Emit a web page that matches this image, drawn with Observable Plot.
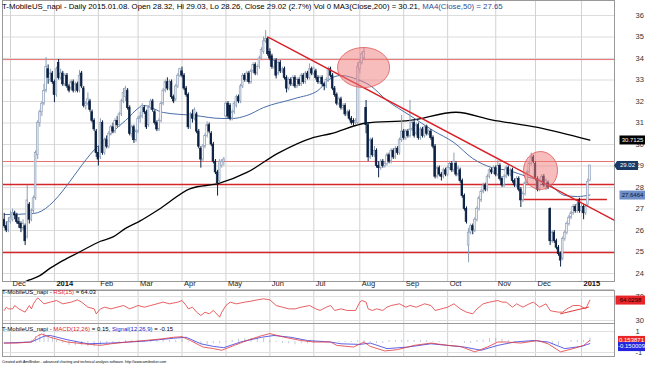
<!DOCTYPE html>
<html><head><meta charset="utf-8">
<script src="https://cdn.jsdelivr.net/npm/d3@7"></script>
<script src="https://cdn.jsdelivr.net/npm/@observablehq/plot@0.6"></script>
<style>
html,body{margin:0;padding:0;background:#fff;}
#wrap{position:relative;width:645px;height:366px;overflow:hidden;font-family:"Liberation Sans",Arial,sans-serif;background:#fff;}
.panel{position:absolute;left:0;}
.ttl{position:absolute;left:2px;font-size:6px;white-space:nowrap;line-height:7px;color:#000;}
.foot{position:absolute;left:2px;top:360px;font-size:3.6px;white-space:nowrap;color:#000;}
</style></head><body>
<div id="wrap">
  <div class="panel" id="p1" style="top:0"></div>
  <div class="panel" id="p2" style="top:290px"></div>
  <div class="panel" id="p3" style="top:323px"></div>
  <div class="ttl" style="top:2px;font-size:7.8px;line-height:9px">T-MobileUS_napi - Daily 2015.01.08. Open 28.32, Hi 29.03, Lo 28.26, Close 29.02 (2.7%) Vol 0 MA3(Close,200) = 30.21, <span style="color:#2c4f9a">MA4(Close,50) = 27.65</span></div>
  <div class="ttl" style="top:289px">T-MobileUS_napi - <span style="color:#e0202a">RSI(15)</span> = 64.03</div>
  <div class="ttl" style="top:326px">T-MobileUS_napi - <span style="color:#e0202a">MACD(12,26)</span> = 0.15, <span style="color:#2020d0">Signal(12,26,9)</span> = -0.15</div>
  <div class="foot">Created with AmiBroker - advanced charting and technical analysis software. http://www.amibroker.com</div>
</div>
<script>
// trading-day index of first candle (0 = 2013-12-02)
const firstIdx = -3;
const open = [
26.5,26.2,26.0,
26.4,26.5,26.8,26.7,26.4,26.3,26.1,26.2,25.7,27.2,26.5,26.9,27.5,29.5,31.0,31.5,31.9,32.5,33.5,33.0,33.3,
32.9,32.3,33.8,33.1,33.3,32.8,33.2,32.7,32.6,32.9,32.5,32.8,32.5,33.3,32.6,31.8,31.9,32.0,31.5,31.1,30.6,
29.6,29.4,31.0,29.6,30.2,29.9,30.5,30.8,30.6,31.1,30.9,31.4,32.0,32.2,32.5,31.7,30.5,30.8,30.2,
30.6,31.2,31.3,31.7,31.5,30.9,31.7,32.0,31.5,31.0,30.7,31.1,31.9,32.5,32.9,32.6,32.9,32.2,32.1,32.7,33.2,
33.4,33.2,32.6,32.3,30.8,31.4,31.2,31.4,30.6,29.8,29.3,29.9,30.4,30.9,30.5,30.0,29.2,28.7,28.3,29.0,29.2,
31.3,31.9,31.8,31.2,31.5,31.8,32.2,32.0,32.7,33.2,33.0,33.3,32.9,33.4,33.7,33.3,33.6,34.0,34.3,34.8,34.9,
34.3,34.1,33.6,33.9,33.3,33.8,33.4,33.5,33.1,32.6,33.0,32.8,33.1,32.7,33.0,32.8,33.2,32.9,33.3,33.1,33.5,
33.3,33.4,33.1,32.9,33.1,32.8,32.7,33.0,33.5,33.2,32.6,32.3,31.9,32.1,31.7,31.8,31.4,31.5,31.2,31.1,31.0,31.0,
33.5,33.8,34.0,31.7,30.9,29.4,30.2,29.5,29.7,29.0,28.9,29.2,29.0,29.1,29.5,29.2,29.7,29.4,29.8,29.6,30.2,
30.6,30.3,30.6,30.4,30.7,31.0,30.5,30.9,30.3,30.7,30.4,30.8,30.5,30.6,30.3,29.9,28.5,28.9,28.6,28.5,28.8,
28.6,28.9,29.1,28.8,29.1,28.6,28.8,28.3,27.6,27.0,25.3,25.9,26.2,26.0,26.5,27.0,27.4,27.8,28.1,27.9,28.5,28.8,28.7,
28.9,28.6,29.0,28.4,28.1,28.5,28.9,28.6,28.8,28.3,28.1,28.4,27.9,27.4,27.7,28.2,28.7,29.1,29.4,
29.1,28.4,27.9,28.3,28.5,28.1,28.2,27.0,25.5,25.9,25.5,25.2,24.9,24.7,25.6,25.9,26.3,26.6,26.8,27.1,26.9,27.4,
26.9,27.1,26.8,27.2,28.32];
const high = [
26.8,26.4,26.6,
26.9,27.0,26.9,26.8,26.6,26.4,26.5,26.3,28.1,27.3,27.0,27.6,29.7,31.1,31.6,32.0,32.8,34.05,33.7,33.5,33.4,
33.0,33.6,33.95,33.5,33.4,33.3,33.3,32.8,33.0,33.0,32.9,32.9,33.45,33.4,32.7,32.0,32.4,32.1,31.6,31.2,30.7,
29.9,31.2,31.1,30.3,30.4,30.6,30.9,31.0,31.2,31.3,31.5,32.1,32.6,32.7,32.6,31.8,30.9,30.9,30.7,
31.3,31.5,31.9,31.8,31.6,31.8,32.1,32.1,31.6,31.1,31.2,32.0,32.6,33.0,33.1,33.0,33.0,32.3,32.8,33.3,33.55,
33.6,33.3,32.7,32.4,31.5,31.6,31.7,31.5,30.7,29.9,30.0,30.5,31.05,31.0,30.6,30.1,29.3,28.8,29.3,29.3,29.4,
32.0,32.0,31.9,31.6,32.0,32.3,32.3,32.8,33.3,33.3,33.4,33.4,33.5,33.8,33.8,33.7,34.1,34.5,35.0,35.3,35.0,
34.45,34.2,34.0,34.0,33.9,33.9,33.6,33.6,33.2,33.1,33.1,33.2,33.2,33.1,33.1,33.3,33.3,33.4,33.4,33.75,33.6,
33.6,33.5,33.2,33.2,33.2,32.9,33.1,33.6,33.6,33.3,32.7,32.4,32.2,32.2,31.9,31.9,31.6,31.6,31.3,31.2,31.2,33.8,
33.9,34.3,34.5,32.05,31.0,30.3,30.3,29.9,29.8,29.2,29.3,29.3,29.2,29.6,29.6,29.8,29.8,29.9,29.9,30.3,31.35,
30.7,30.7,30.7,32.05,31.1,31.1,31.0,31.0,30.8,30.8,30.9,30.9,30.7,30.7,30.4,30.0,29.0,29.0,28.7,28.9,28.9,
29.0,29.2,29.2,29.6,29.2,29.0,28.9,28.4,27.7,27.1,26.1,26.3,26.3,26.6,27.1,27.6,27.9,28.2,28.2,28.6,28.9,28.9,29.0,
29.0,29.25,29.1,28.5,28.6,29.0,29.0,28.9,28.9,28.4,28.5,28.5,28.0,27.8,28.3,28.8,29.2,29.6,29.5,
29.2,28.5,28.4,28.6,28.6,28.4,28.3,27.05,26.0,26.0,25.6,25.3,25.0,25.7,26.0,26.4,26.7,26.9,27.2,27.2,27.3,27.5,
27.2,27.2,27.2,28.4,29.03];
const low = [
26.1,25.9,25.9,
26.3,26.4,26.5,26.3,26.1,25.9,26.0,25.3,25.6,26.3,26.4,26.8,27.4,29.3,30.8,31.3,31.8,32.4,32.8,32.9,32.8,
31.95,32.2,33.0,33.0,32.7,32.7,32.6,32.4,32.5,32.4,32.4,32.4,32.4,32.6,31.7,31.6,31.8,31.5,31.0,30.6,29.4,
29.0,29.3,29.5,29.5,29.8,29.8,30.4,30.5,30.5,30.8,30.8,31.3,31.9,32.0,31.6,30.4,30.3,30.05,30.1,
30.5,31.0,31.2,31.4,30.7,30.8,31.6,31.5,30.9,30.6,30.6,31.0,31.8,32.4,32.5,32.5,32.1,31.9,32.0,32.6,33.1,
33.1,32.5,32.2,30.7,30.7,31.0,31.1,30.5,29.8,28.9,29.2,29.8,30.3,30.5,29.9,29.1,28.6,27.6,28.2,28.9,29.0,
31.2,31.2,31.1,31.1,31.4,31.7,31.9,31.9,32.6,32.9,32.9,32.8,32.8,33.3,33.2,33.2,33.5,33.9,34.2,34.7,34.1,
33.9,33.5,33.5,33.05,33.2,33.3,33.3,33.0,32.4,32.5,32.7,32.7,32.6,32.6,32.7,32.7,32.8,32.8,33.0,33.0,33.2,
33.2,33.0,32.8,32.8,32.7,32.5,32.6,32.9,33.1,32.5,32.2,31.8,31.8,31.6,31.6,31.3,31.3,31.1,30.9,30.8,30.9,30.9,
33.3,33.7,33.9,30.5,29.2,29.3,29.4,29.4,28.9,28.45,28.8,28.9,28.9,29.0,29.1,29.1,29.3,29.3,29.5,29.5,30.1,
30.2,30.2,30.3,30.3,30.6,30.3,30.4,30.2,30.2,30.3,30.3,30.4,30.4,30.2,29.8,28.4,28.4,28.5,28.3,28.4,28.5,
28.5,28.8,28.7,28.7,28.5,28.5,28.2,27.5,26.9,26.3,24.5,25.8,25.8,25.9,26.4,26.9,27.3,27.7,27.8,27.8,28.4,28.6,28.6,
28.5,28.5,28.3,28.0,28.0,28.4,28.5,28.5,28.2,28.0,28.0,27.8,27.07,27.3,27.6,28.1,28.6,29.0,29.1,
28.3,27.8,27.8,28.2,28.0,27.85,27.9,25.3,25.4,25.4,25.1,24.8,24.3,24.6,25.5,25.8,26.2,26.5,26.7,26.8,26.8,26.8,
26.8,26.5,26.7,27.1,28.26];
const close = [
26.2,26.0,26.4,
26.6,26.8,26.7,26.4,26.3,26.1,26.3,25.5,27.4,26.5,26.9,27.5,29.6,31.0,31.5,31.9,32.5,33.6,33.1,33.3,32.9,
32.3,33.5,33.1,33.3,32.8,33.2,32.7,32.5,32.9,32.5,32.8,32.5,33.2,32.7,31.8,31.9,32.1,31.6,31.1,30.7,29.6,
29.3,31.0,29.6,30.2,29.9,30.5,30.8,30.6,31.1,30.9,31.4,32.0,32.4,32.6,31.7,30.5,30.8,30.2,30.6,
31.2,31.3,31.8,31.5,30.8,31.7,32.0,31.6,31.0,30.7,31.1,31.9,32.5,32.9,32.6,32.9,32.2,32.0,32.7,33.2,33.5,
33.2,32.6,32.3,30.8,31.4,31.2,31.6,30.6,29.9,29.3,29.9,30.4,30.9,30.6,30.0,29.2,28.7,28.2,29.2,29.2,29.3,
31.9,31.3,31.2,31.5,31.9,32.2,32.0,32.7,33.2,33.0,33.3,32.9,33.4,33.7,33.3,33.6,34.0,34.4,34.8,34.9,34.2,
34.0,33.6,33.9,33.2,33.8,33.4,33.5,33.1,32.6,33.0,32.8,33.1,32.7,33.0,32.8,33.2,32.9,33.3,33.1,33.5,33.3,
33.5,33.1,32.9,33.1,32.8,32.7,33.0,33.5,33.2,32.6,32.3,31.9,32.1,31.7,31.8,31.4,31.5,31.2,31.0,31.0,31.1,33.6,
33.8,34.2,34.3,30.9,29.4,30.2,29.5,29.7,29.0,28.9,29.2,29.0,29.1,29.5,29.2,29.7,29.4,29.8,29.6,30.2,30.6,
30.3,30.6,30.4,30.7,31.0,30.4,30.9,30.3,30.7,30.4,30.8,30.5,30.6,30.3,29.9,28.5,28.9,28.6,28.5,28.8,28.6,
28.9,29.1,28.8,29.2,28.6,28.9,28.3,27.6,27.0,26.4,25.9,26.2,26.0,26.5,27.0,27.5,27.8,28.1,27.9,28.5,28.8,28.7,28.9,
28.6,29.0,28.4,28.1,28.5,28.9,28.6,28.8,28.3,28.1,28.4,27.9,27.4,27.7,28.2,28.7,29.1,29.4,29.2,
28.4,27.9,28.3,28.5,28.1,28.3,28.0,25.5,25.9,25.5,25.2,24.9,24.6,25.6,25.9,26.3,26.6,26.8,27.1,26.9,27.2,26.9,
27.1,26.8,27.1,28.26,29.02];

// moving averages: [trading-day index, price]
const ma200 = [[-3,23.4],[5,23.55],[9,23.7],[14,23.9],[19,24.25],[25,24.6],[33,25.0],[43,25.5],[49,25.7],[55,26.1],[62,26.45],[72,27.05],[86,27.95],[100,28.2],[113,28.7],[128,29.6],[144,30.3],[153,30.5],[170,31.0],[191,31.12],[213,31.5],[230,31.15],[252,30.8],[277,30.2]];
const ma50 = [[-3,26.74],[11,26.79],[42,29.95],[55,31.12],[64,31.81],[73,31.49],[88,31.35],[101,31.21],[106,31.21],[113,31.35],[121,31.72],[136,32.14],[147,32.51],[152,33.0],[158,33.21],[166,33.02],[172,32.74],[180,32.05],[191,31.35],[202,30.65],[212,30.09],[221,29.35],[230,28.93],[238,28.79],[248,28.47],[257,28.19],[265,27.63],[271,27.58],[277,27.65]];

const rsiPoints = [[-3,46.7],[-2,52.2],[-1,49.4],[1,49.4],[2,55],[4,49.4],[6,45.6],[7,44],[9,55],[10,49.4],[11,57.8],[12,63.3],[13,67.8],[16,57.8],[19,60.6],[22,63.3],[25,57.8],[29,60.6],[32,64.4],[34,60.6],[37,52.2],[40,49.4],[41,41.1],[43,49.4],[45,52.2],[48,49.4],[51,52.2],[54,55],[57,49.4],[61,55],[64,52.2],[67,55],[70,57.8],[73,60.6],[76,57.8],[80,60.6],[82,63.3],[84,55],[85,49.4],[87,52.2],[89,43.9],[91,38.3],[93,43.9],[95,41.1],[97,46.7],[100,35.6],[101,43.9],[103,55],[105,60.6],[108,57.8],[112,60.6],[115,62.2],[118,64.4],[121,66.1],[124,64.4],[127,55],[130,52.2],[133,49.4],[136,49.4],[139,52.2],[143,55],[146,49.4],[148,46.7],[151,52.2],[153,55],[155,46.7],[158,49.4],[161,46.7],[165,46.7],[167,60.6],[168,63.3],[170,60.6],[171,49.4],[173,46.7],[175,49.4],[178,46.7],[180,52.2],[182,55],[186,57.8],[189,52.2],[191,55],[194,52.2],[198,57.8],[201,55],[203,46.7],[206,49.4],[209,52.2],[212,57.8],[215,49.4],[218,43.9],[221,41.1],[223,49.4],[226,57.8],[229,60.6],[233,63.3],[235,60.6],[237,60.6],[240,52.2],[242,57.8],[245,52.2],[248,57.8],[250,60.6],[253,52.2],[256,57.8],[258,46.7],[259,45.6],[262,43.9],[264,43.9],[266,49.4],[269,55],[272,55],[275,49.4],[277,64.03]];
const rsiTrend = [[263,41.2],[276.3,52.2]];

const macdPoints = [[-3,-0.10],[3,-0.10],[10,0.0],[13,0.60],[15,0.76],[19,0.45],[27,0.0],[35,-0.17],[43,-0.32],[48,-0.17],[56,0.0],[64,0.14],[72,0.29],[78,0.45],[82,0.51],[86,0.14],[92,-0.48],[97,-0.63],[101,-0.79],[107,-0.32],[113,0.14],[120,0.60],[124,0.80],[131,0.45],[139,0.14],[145,0.0],[153,0.0],[156,-0.32],[164,-0.48],[169,0.0],[172,-0.42],[179,-0.85],[185,-0.73],[193,-0.32],[201,-0.10],[209,-0.32],[215,-0.42],[222,-0.94],[228,-0.48],[233,0.0],[237,0.0],[244,-0.10],[252,0.14],[257,-0.17],[263,-0.94],[269,-0.63],[274,-0.32],[277,0.15]];
const signalPoints = [[-3,-0.10],[10,0.0],[16,0.55],[19,0.62],[27,0.22],[37,-0.17],[48,-0.10],[64,0.08],[78,0.36],[84,0.45],[91,-0.17],[97,-0.42],[102,-0.54],[110,0.0],[120,0.45],[126,0.62],[134,0.45],[142,0.14],[153,0.0],[158,-0.17],[167,-0.23],[172,-0.10],[180,-0.63],[190,-0.48],[201,-0.17],[209,-0.32],[217,-0.48],[225,-0.79],[233,-0.32],[241,0.0],[250,0.14],[257,0.0],[265,-0.63],[273,-0.42],[277,-0.15]];
const histPoints = [[-2,0.02],[1,-0.02],[4,0.02],[7,0.03],[10,0.2],[12,0.5],[14,0.75],[16,0.8],[18,0.6],[20,0.4],[22,0.15],[25,-0.15],[28,-0.3],[31,-0.35],[34,-0.4],[37,-0.45],[40,-0.45],[43,-0.4],[46,-0.2],[49,-0.1],[52,0.05],[55,0.1],[58,0.1],[61,0.1],[64,0.1],[67,0.1],[70,0.1],[73,0.15],[76,0.15],[79,0.2],[82,0.25],[85,-0.05],[88,-0.15],[91,-0.25],[94,-0.25],[97,-0.2],[100,-0.2],[103,0.05],[106,0.2],[109,0.25],[112,0.3],[115,0.3],[118,0.3],[121,0.3],[124,0.2],[127,-0.05],[130,-0.15],[133,-0.2],[136,-0.25],[139,-0.2],[142,-0.2],[145,-0.1],[148,-0.05],[151,0.02],[157,-0.05],[160,-0.05],[163,-0.05],[166,0.1],[169,0.15],[172,-0.05],[175,-0.1],[178,-0.1],[181,0.1],[184,0.15],[187,0.2],[190,0.2],[193,0.15],[196,0.15],[199,0.1],[202,-0.05],[205,-0.05],[211,0.05],[217,-0.1],[220,-0.1],[223,0.1],[226,0.2],[229,0.3],[232,0.3],[235,0.25],[238,0.15],[241,0.05],[247,0.05],[250,0.1],[253,-0.05],[256,-0.1],[259,-0.25],[262,-0.3],[265,0.02],[268,0.15],[271,0.15],[274,0.2],[277,0.3]];

const priceTicks = [24,25,26,27,28,29,30,31,32,33,34,35,36];
const monthIdx = [0,21,42,61,82,103,124,145,167,188,209,232,251,273];
const monthLbl = ["Dec","2014","Feb","Mar","Apr","May","Jun","Jul","Aug","Sep","Oct","Nov","Dec","2015"];
const thinLevels = [33.95, 29.21];
const thickLevels = [28.14, 24.98];
const shortLevel = [[27.44, 245, 285.4]];
const trend = [[123.4, 34.98], [288.77, 26.47]];
const circleA = [[168.8, 33.58]];
const circleB = [[253.4, 28.79]];

const days = open.map((o, k) => ({i: k + firstIdx, o, h: high[k], l: low[k], c: close[k]}));
const UP = "#8d9fb8", DN = "#0c2142";
const FONT = '"Liberation Sans", Arial, sans-serif';
const base = {width: 645, marginLeft: 2, marginRight: 31,
  x: {domain: [-3.825, 288.77], axis: null},
  style: {fontFamily: FONT, background: "transparent", overflow: "visible"}};

function ellipseSym(rx, ry) {
  const k = 0.5523;
  return {draw(ctx) {
    ctx.moveTo(rx, 0);
    ctx.bezierCurveTo(rx, ry*k, rx*k, ry, 0, ry);
    ctx.bezierCurveTo(-rx*k, ry, -rx, ry*k, -rx, 0);
    ctx.bezierCurveTo(-rx, -ry*k, -rx*k, -ry, 0, -ry);
    ctx.bezierCurveTo(rx*k, -ry, rx, -ry*k, rx, 0);
    ctx.closePath();
  }};
}
function boxSym(w, h, arrow) {
  return {draw(ctx) {
    const x0 = -w/2, x1 = w/2, y0 = -h/2, y1 = h/2;
    if (arrow) { ctx.moveTo(x0 - arrow, 0); ctx.lineTo(x0, y0); } else ctx.moveTo(x0, y0);
    ctx.lineTo(x1, y0); ctx.lineTo(x1, y1); ctx.lineTo(x0, y1); ctx.closePath();
  }};
}
function tag(v, txt, bg, fg, cx, w, arrow, dy = 0) {
  return [
    Plot.dot([v], {y: d => d, frameAnchor: "right", dx: cx - 614, dy, symbol: boxSym(w, 9, arrow), fill: bg, stroke: "none"}),
    Plot.text([v], {y: d => d, frameAnchor: "right", dx: cx - 614, dy, text: () => txt, fill: fg, fontSize: 6, textAnchor: "middle"})
  ];
}
function yLabels(vals) {
  return Plot.text(vals, {y: d => d, text: d => String(d), frameAnchor: "right", dx: 21, textAnchor: "start", fontSize: 7.5, fill: "#333"});
}

const main = Plot.plot({
  ...base, height: 290, marginTop: 0, marginBottom: 9,
  y: {domain: [23.628, 36.698], axis: null},
  marks: [
    Plot.ruleY(priceTicks, {stroke: "#dcdcdc"}),
    Plot.ruleX(monthIdx, {stroke: "#d2d2d2"}),
    Plot.ruleY(thinLevels, {stroke: "#e87272", strokeWidth: 1}),
    Plot.ruleY(thickLevels, {stroke: "#d3262b", strokeWidth: 1.6}),
    Plot.ruleY(shortLevel, {y: d => d[0], x1: d => d[1], x2: d => d[2], stroke: "#d3262b", strokeWidth: 1.6}),
    Plot.line(ma200, {x: d => d[0], y: d => d[1], curve: "monotone-x", stroke: "#000", strokeWidth: 1.3, clip: true}),
    Plot.line(ma50, {x: d => d[0], y: d => d[1], curve: "monotone-x", stroke: "#4a6ea8", strokeWidth: 1}),
    Plot.ruleX(days, {filter: d => d.c >= d.o, x: "i", y1: "l", y2: "h", stroke: UP, strokeWidth: 1}),
    Plot.ruleX(days, {filter: d => d.c < d.o, x: "i", y1: "l", y2: "h", stroke: DN, strokeWidth: 1}),
    Plot.rect(days, {filter: d => d.c >= d.o, x1: d => d.i - 0.38, x2: d => d.i + 0.38, y1: "o", y2: "c", fill: "#fff", stroke: UP, strokeWidth: 0.7}),
    Plot.rect(days, {filter: d => d.c < d.o, x1: d => d.i - 0.38, x2: d => d.i + 0.38, y1: "o", y2: "c", fill: DN, stroke: DN, strokeWidth: 0.7}),
    Plot.line(trend, {x: d => d[0], y: d => d[1], stroke: "#d81f26", strokeWidth: 1.4}),
    Plot.dot(circleA, {x: d => d[0], y: d => d[1], symbol: ellipseSym(26, 20), fill: "#f07c7c", fillOpacity: 0.5, stroke: "#e05555", strokeWidth: 0.8}),
    Plot.dot(circleB, {x: d => d[0], y: d => d[1], symbol: ellipseSym(17, 19), fill: "#f07c7c", fillOpacity: 0.5, stroke: "#e05555", strokeWidth: 0.8}),
    Plot.frame({stroke: "#999"}),
    Plot.ruleY([23.628], {dy: 8.5, stroke: "#999"}),
    Plot.text(monthIdx, {filter: (d, k) => !/^\d/.test(monthLbl[k]), x: d => d, text: d => monthLbl[monthIdx.indexOf(d)], frameAnchor: "bottom", dy: 4.5, dx: 2, textAnchor: "start", fontSize: 7.5, fill: "#222"}),
    Plot.text(monthIdx, {filter: (d, k) => /^\d/.test(monthLbl[k]), x: d => d, text: d => monthLbl[monthIdx.indexOf(d)], frameAnchor: "bottom", dy: 4.5, dx: 2, textAnchor: "start", fontSize: 7.5, fontWeight: "bold", fill: "#111"}),
    yLabels(priceTicks),
    ...tag(30.21, "30.7125", "#000", "#fff", 632, 26, 0),
    ...tag(29.02, "29.02", "#1c3a66", "#fff", 627, 21, 3),
    ...tag(27.65, "27.6464", "#6f8fc8", "#0a1a40", 632, 26, 0)
  ]
});

const rsi = Plot.plot({
  ...base, height: 33, marginTop: 0, marginBottom: 0,
  y: {domain: [25, 80], axis: null},
  marks: [
    Plot.ruleX(monthIdx, {stroke: "#d2d2d2"}),
    Plot.ruleY([30, 70], {stroke: "#e0e0e0"}),
    Plot.line(rsiPoints, {x: d => d[0], y: d => d[1], stroke: "#e2393b", strokeWidth: 0.8}),
    Plot.line(rsiTrend, {x: d => d[0], y: d => d[1], stroke: "#e2393b", strokeWidth: 1}),
    Plot.frame({stroke: "#999"}),
    yLabels([30, 70]),
    ...tag(64.03, "64.0298", "#e8262a", "#1a0000", 630, 30, 0)
  ]
});

const macd = Plot.plot({
  ...base, height: 33, marginTop: 0, marginBottom: 0,
  y: {domain: [-1.381, 1.762], axis: null},
  marks: [
    Plot.ruleX(monthIdx, {stroke: "#d2d2d2"}),
    Plot.ruleY([1, -1], {stroke: "#e0e0e0"}),
    Plot.ruleX(histPoints, {x: d => d[0], y1: 0, y2: d => d[1], stroke: "#7f98b8", strokeDasharray: "1,1", strokeWidth: 1}),
    Plot.line(signalPoints, {x: d => d[0], y: d => d[1], stroke: "#3a3ae0", strokeWidth: 0.8}),
    Plot.line(macdPoints, {x: d => d[0], y: d => d[1], stroke: "#e2393b", strokeWidth: 0.8}),
    Plot.frame({stroke: "#999"}),
    yLabels([1, -1]),
    ...tag(0.15, "0.153871", "#e8262a", "#fff", 631, 27, 0),
    ...tag(-0.15, "-0.150009", "#2424e0", "#fff", 631, 27, 0, 3)
  ]
});

document.getElementById("p1").appendChild(main);
document.getElementById("p2").appendChild(rsi);
document.getElementById("p3").appendChild(macd);
</script>
</body></html>
